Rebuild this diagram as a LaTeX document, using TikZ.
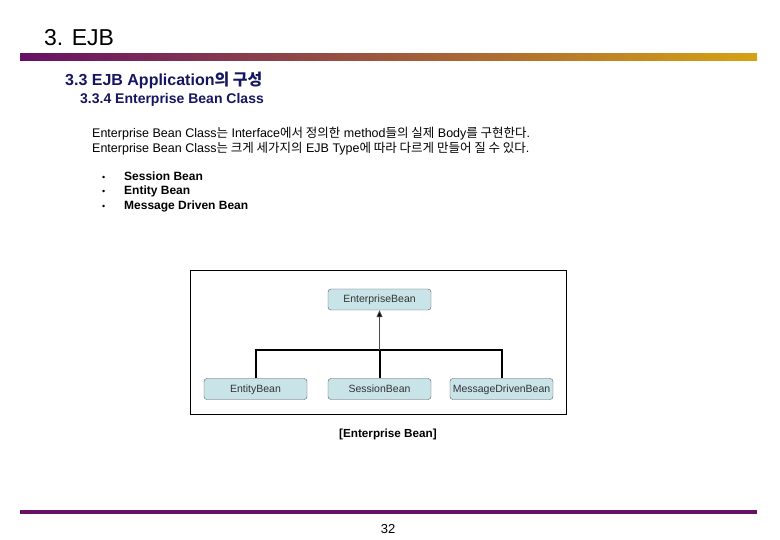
\documentclass[tikz,border=0pt]{standalone}
\usepackage{fontspec}
\setmainfont{Liberation Sans}
\newfontfamily\kr{Noto Sans CJK KR}
\usetikzlibrary{arrows.meta}
\definecolor{navy}{RGB}{22,22,96}
\definecolor{barpurple}{RGB}{102,16,102}
\definecolor{bargold}{RGB}{214,162,20}
\definecolor{boxfill}{RGB}{200,228,232}
\begin{document}
\begin{tikzpicture}[x=1pt,y=-1pt,
  cls/.style={draw=black!65, fill=boxfill, rounded corners=3pt, minimum width=103pt, minimum height=21pt, inner sep=0pt, text height=8pt, text depth=2pt, font=\fontsize{10.5}{12}\selectfont, text=black!80},
  txt/.style={anchor=base west, inner sep=0pt},
  bus/.style={line width=2pt, black}]
\useasboundingbox (0,0) rectangle (780,540);
% title
\node[txt, font=\fontsize{23}{27}\selectfont] (title) at (44,46) {3. EJB};
\shade[left color=barpurple, right color=bargold] (20,54) rectangle (757,61);
% headings
\node[txt, font=\bfseries\fontsize{16}{18}\selectfont, text=navy] (h1) at (65,86) {3.3 EJB Application{\kr 의 구성}};
\node[txt, font=\bfseries\fontsize{14}{16}\selectfont, text=navy] (h2) at (80,104) {3.3.4 Enterprise Bean Class};
% body
\node[txt, font=\fontsize{12.5}{14}\selectfont] (l1) at (92,138) {Enterprise Bean Class{\kr 는} Interface{\kr 에서 정의한} method{\kr 들의 실제} Body{\kr 를 구현한다}.};
\node[txt, font=\fontsize{12.5}{14}\selectfont] (l2) at (92,153) {Enterprise Bean Class{\kr 는 크게 세가지의} EJB Type{\kr 에 따라 다르게 만들어 질 수 있다}.};
% bullets
\foreach \y/\t [count=\i] in {181/Session Bean,195/Entity Bean,210/Message Driven Bean}{
  \node[txt, font=\fontsize{9}{11}\selectfont] (b\i) at (102,\y) {\textbullet};
  \node[txt, font=\bfseries\fontsize{12}{14}\selectfont] (bt\i) at (124,\y) {\t};
}
% diagram frame
\draw[black, line width=0.8pt] (190,270) rectangle (566,414);
\node[cls] (eb) at (379.5,299.5) {EnterpriseBean};
\node[cls] (ent) at (255.5,389) {EntityBean};
\node[cls] (ses) at (379.5,389) {SessionBean};
\node[cls] (msg) at (501.5,389) {MessageDrivenBean};
\draw[bus] (ent.north) -- ++(0,-28) -| (msg.north);
\draw[bus] (ses.north) -- ++(0,-28);
\draw[black!70, line width=0.8pt, -{Triangle[length=7pt,width=6pt,fill=black]}] (ses.north) ++(0,-28) -- (eb.south);
% caption
\node[font=\bfseries\fontsize{11.7}{13}\selectfont, anchor=base] (cap) at (388,437) {[Enterprise Bean]};
% footer
\fill[barpurple] (20,510) rectangle (757,514);
\node[font=\fontsize{13}{15}\selectfont, anchor=base] (pg) at (388,533) {32};
\end{tikzpicture}
\end{document}
